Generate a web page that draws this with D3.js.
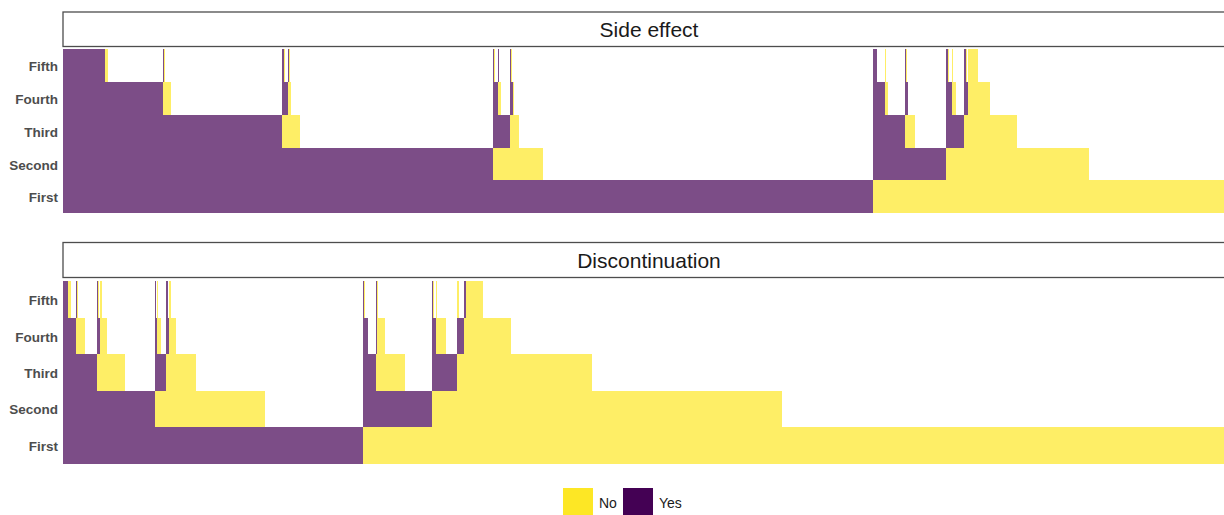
<!DOCTYPE html>
<html>
<head>
<meta charset="utf-8">
<script src="https://cdn.jsdelivr.net/npm/d3@7"></script>
<style>
    body { margin: 0; background: #fff; }
    .rowLabel text { font-family: 'Liberation Sans', Arial, sans-serif; font-weight: bold; font-size: 13.5px; fill: #4d4d4d; }
    .stripText { font-family: 'Liberation Sans', Arial, sans-serif; font-size: 21px; fill: #1a1a1a; }
    .legendText { font-family: 'Liberation Sans', Arial, sans-serif; font-size: 14px; fill: #1a1a1a; }
</style>
</head>
<body>
<div id="graph"></div>
<script>
// Treatment lines (bottom to top) and the two facets
var lines  = ['First', 'Second', 'Third', 'Fourth', 'Fifth'];
var panels = ['Side effect', 'Discontinuation'];
var answers = ['No', 'Yes'];

// Patient sequences: one letter per line (Y = Yes, N = No), with number of patients
var sideEffectSeqs = [
    'YYYYY', 'YYYYN', 'YYYY', 'YYYNY', 'YYYNN', 'YYYN', 'YYY',
    'YYNYY', 'YYNYN', 'YYNY', 'YYNNY', 'YYNNN', 'YYNN', 'YYN', 'YY',
    'YNYYY', 'YNYYN', 'YNYY', 'YNYNY', 'YNYN', 'YNY',
    'YNNYY', 'YNNYN', 'YNNY', 'YNNN', 'YNN', 'YN', 'Y',
    'NYYYY', 'NYYY', 'NYYNN', 'NYYN', 'NYY',
    'NYNYY', 'NYNYN', 'NYNY', 'NYN', 'NY',
    'NNYYY', 'NNYYN', 'NNYY', 'NNYNN', 'NNYN', 'NNY',
    'NNNYY', 'NNNYN', 'NNNY', 'NNNNN', 'NNNN', 'NNN', 'NN', 'N'
];
var sideEffectCounts = [
    42, 3, 55, 1, 1, 6, 111,
    2, 1, 3, 1, 1, 1, 9, 193,
    1, 1, 3, 1, 2, 9,
    1, 1, 1, 1, 5, 24, 330,
    4, 8, 1, 2, 17,
    1, 1, 1, 7, 31,
    2, 1, 3, 1, 3, 8,
    2, 1, 1, 10, 12, 27, 72, 146
];

var discontSeqs = [
    'YYYYY', 'YYYYN', 'YYYY', 'YYYNY', 'YYYNN', 'YYYN', 'YYY',
    'YYNYY', 'YYNYN', 'YYNY', 'YYNNN', 'YYNN', 'YYN', 'YY',
    'YNYYY', 'YNYY', 'YNYNN', 'YNYN', 'YNY',
    'YNNYY', 'YNNY', 'YNNNN', 'YNNN', 'YNN', 'YN', 'Y',
    'NYYYY', 'NYYYN', 'NYYY', 'NYY',
    'NYNYY', 'NYNNN', 'NYNN', 'NYN', 'NY',
    'NNYYY', 'NNYYN', 'NNYY', 'NNYNN', 'NNYN', 'NNY',
    'NNNYN', 'NNNY', 'NNNNY', 'NNNNN', 'NNNN', 'NNN', 'NN', 'N'
];
var discontCounts = [
    5, 3, 5, 1, 1, 7, 12,
    1, 1, 1, 2, 5, 18, 30,
    1, 1, 1, 3, 5,
    2, 1, 2, 5, 20, 69, 98,
    1, 1, 3, 8,
    1, 1, 7, 20, 27,
    1, 1, 2, 1, 9, 11,
    2, 5, 2, 17, 28, 81, 190, 453
];

var width = 1224, height = 515;

// Panel geometry: strip box + tile area
var plotLeft = 63, plotRight = 1235;
var layout = [
    { stripTop: 12,    stripBottom: 46.5,  top: 49.3,  bottom: 213 },
    { stripTop: 242.5, stripBottom: 277.5, top: 281.2, bottom: 463.5 }
];

var colour = d3.scaleOrdinal ()
               .domain (answers)
               .range (['#FDE725', '#440154']);

// Sort Yes before No before "no further line", as the plot does
var rank = { Y: 0, N: 1 };
function compareSeq (a, b)
{
    for (var i = 0; i < Math.max(a.length, b.length); i++)
    {
        var ra = i < a.length ? rank[a[i]] : 2;
        var rb = i < b.length ? rank[b[i]] : 2;
        if (ra !== rb) return ra - rb;
    }
    return 0;
}

// Build one tile per (line, prefix) run of patients
function ComputeTiles (seqs, counts)
{
    var items = seqs.map(function (s, i) { return { seq: s, n: counts[i] }; });
    items.sort(function (a, b) { return compareSeq(a.seq, b.seq); });

    var pos = 0;
    items.forEach(function (d) { d.start = pos; pos += d.n; d.end = pos; });

    var tiles = [];
    for (var r = 0; r < lines.length; r++)
    {
        var current = null;
        items.forEach(function (d)
        {
            if (d.seq.length <= r) { current = null; return; }
            var prefix = d.seq.slice(0, r + 1);
            if (current && current.prefix === prefix)
                current.end = d.end;
            else
            {
                current = { line: lines[r], prefix: prefix, start: d.start, end: d.end,
                            value: d.seq[r] === 'Y' ? 'Yes' : 'No' };
                tiles.push(current);
            }
        });
    }
    return { tiles: tiles, total: pos };
}

var svg = d3.select ('#graph')
            .append ('svg')
            .attr ('width', width)
            .attr ('height', height);

var panelData = [ComputeTiles (sideEffectSeqs, sideEffectCounts),
                 ComputeTiles (discontSeqs, discontCounts)];

panelData.forEach(function (pd, p)
{
    var L = layout[p];

    var xScale = d3.scaleLinear ()
                   .domain ([0, pd.total])
                   .range ([plotLeft, plotRight]);

    var yScale = d3.scaleBand ()
                   .domain (lines)
                   .range ([L.bottom, L.top])
                   .padding (0);

    // Strip
    svg.append ('rect')
       .attr ('x', plotLeft)
       .attr ('y', L.stripTop)
       .attr ('width', plotRight - plotLeft)
       .attr ('height', L.stripBottom - L.stripTop)
       .attr ('fill', '#fff')
       .attr ('stroke', '#4d4d4d')
       .attr ('stroke-width', 1.3);

    svg.append ('text')
       .attr ('class', 'stripText')
       .attr ('x', (plotLeft + plotRight) / 2)
       .attr ('y', (L.stripTop + L.stripBottom) / 2)
       .attr ('dy', '0.36em')
       .attr ('text-anchor', 'middle')
       .text (panels[p]);

    // Tiles
    svg.append ('g')
       .selectAll ('rect')
       .data (pd.tiles)
       .enter ()
       .append ('rect')
       .attr ('x', function (d) { return xScale (d.start); })
       .attr ('width', function (d) { return xScale (d.end) - xScale (d.start); })
       .attr ('y', function (d) { return yScale (d.line); })
       .attr ('height', yScale.bandwidth ())
       .attr ('fill', function (d) { return colour (d.value); })
       .attr ('fill-opacity', 0.7)
       .attr ('shape-rendering', 'crispEdges');

    // Row labels
    var yAxis = d3.axisLeft (yScale).tickSize (0).tickPadding (5);
    var g = svg.append ('g')
               .attr ('class', 'rowLabel')
               .attr ('transform', 'translate(' + plotLeft + ',0)')
               .call (yAxis);
    g.select ('.domain').remove ();
    g.selectAll ('text').attr ('font-family', null).attr ('font-size', null).attr ('dy', '0.42em');
});

// Legend
var legend = svg.append ('g')
                .attr ('transform', 'translate(563,488)');

var keyX = d3.scaleOrdinal ().domain (answers).range ([0, 60]);

legend.selectAll ('rect')
      .data (answers)
      .enter ()
      .append ('rect')
      .attr ('x', function (d) { return keyX (d); })
      .attr ('y', 0)
      .attr ('width', 30)
      .attr ('height', 30)
      .attr ('fill', function (d) { return colour (d); });

legend.selectAll ('text')
      .data (answers)
      .enter ()
      .append ('text')
      .attr ('class', 'legendText')
      .attr ('x', function (d) { return keyX (d) + 36; })
      .attr ('y', 20)
      .text (function (d) { return d; });
</script>
</body>
</html>
